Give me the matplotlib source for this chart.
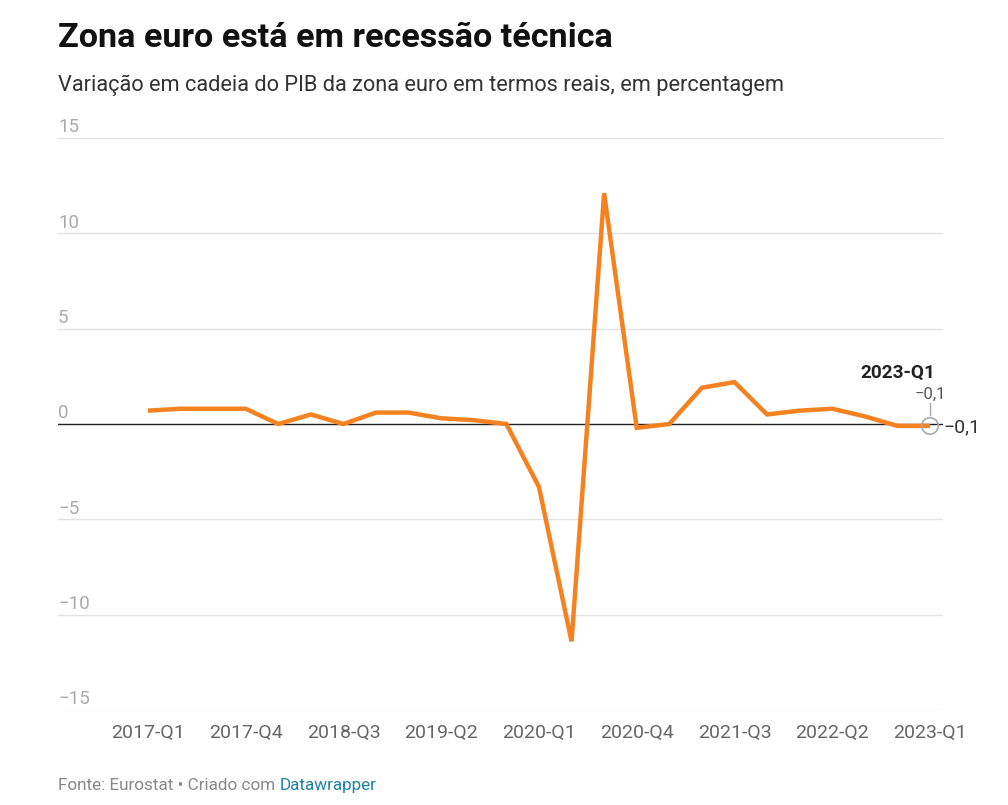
import matplotlib.pyplot as plt
from matplotlib.transforms import blended_transform_factory

plt.rcParams['font.family'] = ['Roboto', 'DejaVu Sans']

quarters = [
    "2017-Q1", "2017-Q2", "2017-Q3", "2017-Q4",
    "2018-Q1", "2018-Q2", "2018-Q3", "2018-Q4",
    "2019-Q1", "2019-Q2", "2019-Q3", "2019-Q4",
    "2020-Q1", "2020-Q2", "2020-Q3", "2020-Q4",
    "2021-Q1", "2021-Q2", "2021-Q3", "2021-Q4",
    "2022-Q1", "2022-Q2", "2022-Q3", "2022-Q4",
    "2023-Q1",
]
gdp_change = [
    0.7, 0.8, 0.8, 0.8,
    0.0, 0.5, 0.0, 0.6,
    0.6, 0.3, 0.2, 0.0,
    -3.3, -11.4, 12.1, -0.2,
    0.0, 1.9, 2.2, 0.5,
    0.7, 0.8, 0.4, -0.1,
    -0.1,
]
y_ticks = [15, 10, 5, 0, -5, -10, -15]

W, H = 1008, 805
fig = plt.figure(figsize=(W / 100, H / 100), dpi=100)
fig.patch.set_facecolor("white")

ax_left, ax_right, ax_top, ax_bottom = 58, 943, 138, 710
ax = fig.add_axes([ax_left / W, 1 - ax_bottom / H, (ax_right - ax_left) / W, (ax_bottom - ax_top) / H])
ax.set_ylim(-15, 15)
xs = list(range(len(quarters)))
ax.set_xlim(-2.76, len(quarters) - 1 + 0.4)

for s in ax.spines.values():
    s.set_visible(False)
ax.set_yticks([])
ax.tick_params(axis="x", length=0, pad=10, labelsize=14, labelcolor="#666666")
ax.set_xticks(xs[::3])
ax.set_xticklabels(quarters[::3])

trans = blended_transform_factory(ax.transAxes, ax.transData)
for v in y_ticks:
    ax.axhline(v, color="#222222" if v == 0 else "#e3e3e3", lw=1.0, zorder=1)
    label = str(v).replace("-", "\u2212")
    ax.text(0, v + 0.3, label, transform=trans, ha="left", va="baseline",
            fontsize=13.5, color="#aaaaaa")

ax.plot(xs, gdp_change, color="#f58220", lw=3.2, solid_joinstyle="miter",
        solid_capstyle="butt", zorder=3)

# last point annotation
lx, ly = xs[-1], gdp_change[-1]
ax.scatter([lx], [ly], s=140, facecolors="none", edgecolors="#aaaaaa", lw=1.2, zorder=4)
last_lbl = f"{ly:.1f}".replace(".", ",").replace("-", "\u2212")
ax.annotate(last_lbl, (lx, ly), xytext=(10, -1), textcoords="offset points",
            ha="left", va="center", fontsize=14, color="#333333")
ax.plot([lx, lx], [ly + 0.55, ly + 1.2], color="#aaaaaa", lw=1.0, zorder=4)
ax.annotate(last_lbl, (lx, ly), xytext=(0, 17), textcoords="offset points",
            ha="center", va="bottom", fontsize=12, color="#555555")
ax.annotate(quarters[-1], (lx, ly), xytext=(4, 32), textcoords="offset points",
            ha="right", va="bottom", fontsize=13.7, fontweight="bold", color="#222222")

fig.text(58 / W, 1 - 47 / H, "Zona euro está em recessão técnica", fontsize=24.6,
         fontweight="bold", color="#111111", ha="left", va="baseline")
fig.text(58 / W, 1 - 91 / H, "Variação em cadeia do PIB da zona euro em termos reais, em percentagem",
         fontsize=15.7, color="#333333", ha="left", va="baseline")

foot = fig.text(58 / W, 1 - 790 / H, "Fonte: Eurostat \u2022 Criado com ", fontsize=12.3,
                color="#888888", ha="left", va="baseline")
fig.canvas.draw()
bb = foot.get_window_extent()
fig.text(bb.x1 / W, 1 - 790 / H, "Datawrapper", fontsize=12.3, color="#1d81a2",
         ha="left", va="baseline")

fig.savefig("out.png", dpi=100, facecolor="white")
